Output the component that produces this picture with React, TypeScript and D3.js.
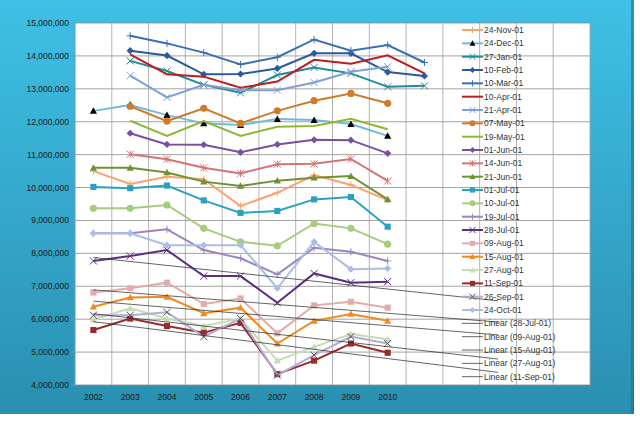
import React from 'react';
import * as d3 from 'd3';

const years = ['2002', '2003', '2004', '2005', '2006', '2007', '2008', '2009', '2010', '', '', '', '', ''];
const yTicks = d3.range(4000000, 15000001, 1000000);

type Mk = 'plus' | 'tri' | 'x' | 'diamond' | 'none' | 'circle' | 'star' | 'square';
interface Series { name: string; color: string; marker: Mk; markerColor?: string; start: number; values: number[] }

const names = ['24-Nov-01', '24-Dec-01', '27-Jan-01', '10-Feb-01', '10-Mar-01', '10-Apr-01', '21-Apr-01', '07-May-01', '19-May-01', '01-Jun-01', '14-Jun-01', '21-Jun-01', '01-Jul-01', '10-Jul-01', '19-Jul-01', '28-Jul-01', '09-Aug-01', '15-Aug-01', '27-Aug-01', '11-Sep-01', '26-Sep-01', '24-Oct-01'];
const colors = ['#f9a26b', '#6fbbd9', '#1e8b9a', '#2a5a9b', '#3b6fb5', '#c0191f', '#7f9fd6', '#d07a2c', '#8cb832', '#7a4ea0', '#d47474', '#6f9132', '#2ba1c0', '#a6cc7e', '#9b86c2', '#5b2f84', '#e4abab', '#f08a20', '#c8dcb3', '#9a2b2b', '#b0aed6', '#a9bde6'];
const markers: Mk[] = ['plus', 'tri', 'x', 'diamond', 'plus', 'none', 'x', 'circle', 'none', 'diamond', 'star', 'tri', 'square', 'circle', 'plus', 'x', 'square', 'tri', 'tri', 'square', 'x', 'diamond'];
const starts = [0, 0, 1, 1, 1, 1, 1, 1, 1, 1, 1, 0, 0, 0, 0, 0, 0, 0, 0, 0, 0, 0];
const values: number[][] = [
  [10.50, 10.11, 10.33, 10.25, 9.44, 9.84, 10.38, 10.08, 9.62],
  [12.33, 12.51, 12.20, 11.95, 11.90, 12.08, 12.05, 11.93, 11.57],
  [13.85, 13.54, 13.12, 12.88, 13.42, 13.65, 13.47, 13.06, 13.09],
  [14.16, 14.01, 13.44, 13.45, 13.62, 14.08, 14.08, 13.51, 13.39],
  [14.61, 14.38, 14.10, 13.74, 13.96, 14.50, 14.16, 14.33, 13.80],
  [14.05, 13.44, 13.37, 13.03, 13.22, 13.88, 13.76, 14.02, 13.47],
  [13.40, 12.74, 13.12, 12.96, 12.96, 13.19, 13.52, 13.67],
  [12.47, 12.02, 12.41, 11.95, 12.33, 12.64, 12.86, 12.56],
  [12.03, 11.57, 12.02, 11.57, 11.85, 11.87, 12.09, 11.77],
  [11.65, 11.31, 11.30, 11.07, 11.31, 11.45, 11.44, 11.04],
  [11.01, 10.86, 10.60, 10.43, 10.71, 10.72, 10.87, 10.20],
  [10.60, 10.60, 10.46, 10.18, 10.05, 10.21, 10.30, 10.35, 9.64],
  [10.02, 9.98, 10.06, 9.61, 9.23, 9.29, 9.64, 9.71, 8.81],
  [9.37, 9.37, 9.47, 8.76, 8.35, 8.23, 8.91, 8.76, 8.28],
  [8.61, 8.61, 8.73, 8.10, 7.85, 7.36, 8.17, 8.05, 7.77],
  [7.77, 7.92, 8.10, 7.31, 7.31, 6.50, 7.39, 7.11, 7.14],
  [6.81, 6.94, 7.11, 6.46, 6.63, 5.57, 6.42, 6.53, 6.35],
  [6.38, 6.66, 6.68, 6.18, 6.35, 5.26, 5.95, 6.16, 5.95],
  [5.99, 6.33, 6.02, 5.79, 6.02, 4.74, 5.16, 5.55, 5.39],
  [5.67, 6.02, 5.79, 5.59, 5.89, 4.33, 4.74, 5.26, 4.98],
  [6.12, 6.12, 6.21, 5.47, 6.02, 4.30, 4.91, 5.47, 5.26],
  [8.61, 8.61, 8.25, 8.25, 8.25, 6.94, 8.35, 7.52, 7.54],
];
const trendNames = ['28-Jul-01', '09-Aug-01', '15-Aug-01', '27-Aug-01', '11-Sep-01'];
const trendForward = 3;

const series: Series[] = names.map((n, i) => ({
  name: n, color: colors[i], marker: markers[i], start: starts[i],
  markerColor: n === '24-Dec-01' ? '#000' : n === '26-Sep-01' ? '#555' : colors[i],
  values: values[i].map(v => v * 1e6),
}));

const W = 640, H = 421;
const plot = { left: 75, right: 590, top: 23, bottom: 385 };

const Marker: React.FC<{ kind: Mk; x: number; y: number; c: string; s?: number }> = ({ kind, x, y, c, s = 3.6 }) => {
  switch (kind) {
    case 'plus': return <path d={`M${x - s},${y}H${x + s}M${x},${y - s}V${y + s}`} stroke={c} strokeWidth={1} />;
    case 'x': return <path d={`M${x - s},${y - s}L${x + s},${y + s}M${x - s},${y + s}L${x + s},${y - s}`} stroke={c} strokeWidth={1} />;
    case 'star': return <path d={`M${x - s},${y - s}L${x + s},${y + s}M${x - s},${y + s}L${x + s},${y - s}M${x},${y - s}V${y + s}`} stroke={c} strokeWidth={1} />;
    case 'tri': return <path d={`M${x},${y - s}L${x + s},${y + s * 0.8}L${x - s},${y + s * 0.8}Z`} fill={c} />;
    case 'diamond': return <path d={`M${x},${y - s}L${x + s},${y}L${x},${y + s}L${x - s},${y}Z`} fill={c} />;
    case 'circle': return <circle cx={x} cy={y} r={s} fill={c} />;
    case 'square': return <rect x={x - s * 0.85} y={y - s * 0.85} width={s * 1.7} height={s * 1.7} fill={c} />;
    default: return null;
  }
};

export default function App() {
  const x = d3.scaleBand<number>().domain(d3.range(years.length)).range([plot.left, plot.right]);
  const cx = (i: number) => (x(i) ?? 0) + x.bandwidth() / 2;
  const y = d3.scaleLinear().domain([4000000, 15000000]).range([plot.bottom, plot.top]);
  const line = d3.line<[number, number]>().x(d => cx(d[0])).y(d => y(d[1]));
  const minor = d3.range(4000000, 15000000, 100000);
  const legY = d3.scaleLinear().domain([0, 26]).range([30, 376.7]);
  const fmt = d3.format(',');

  return (
    <svg width={W} height={H} style={{ position: 'absolute', left: 0, top: 0, fontFamily: 'Liberation Sans, Arial, sans-serif' }}>
      <defs>
        <linearGradient id="bg" x1="0" y1="0" x2="0" y2="1">
          <stop offset="0" stopColor="#3fc0e6" />
          <stop offset="1" stopColor="#2a8fb0" />
        </linearGradient>
      </defs>
      <rect x={0} y={0} width={W} height={H} fill="#fff" />
      <rect x={0} y={0} width={634} height={414} fill="url(#bg)" />
      <rect x={631} y={0} width={3} height={414} fill="#1f6f8a" opacity={0.6} />
      <rect x={plot.left} y={plot.top} width={plot.right - plot.left} height={plot.bottom - plot.top} fill="#fff" />
      {yTicks.map(t => <line key={t} x1={plot.left} x2={plot.right} y1={y(t)} y2={y(t)} stroke="#8c8c8c" strokeWidth={0.8} />)}
      {d3.range(1, years.length + 1).map(i => (
        <line key={i} x1={plot.left + i * x.step()} x2={plot.left + i * x.step()} y1={plot.top} y2={plot.bottom} stroke="#a0a0a0" strokeWidth={0.8} />
      ))}
      <line x1={plot.left} x2={plot.left} y1={plot.top} y2={plot.bottom} stroke="#5aa0c0" />
      {minor.map(t => <line key={t} x1={plot.left - 2} x2={plot.left} y1={y(t)} y2={y(t)} stroke="#5aa0c0" strokeWidth={0.5} />)}
      {yTicks.map(t => (
        <g key={t}>
          <line x1={plot.left - 4} x2={plot.left} y1={y(t)} y2={y(t)} stroke="#5aa0c0" />
          <text x={plot.left - 6} y={y(t)} dy="0.35em" textAnchor="end" fontSize={8.5} fill="#1a1a1a">{fmt(t)}</text>
        </g>
      ))}
      {years.map((yr, i) => yr && (
        <text key={i} x={cx(i)} y={plot.bottom + 15} textAnchor="middle" fontSize={8.5} fill="#1a1a1a">{yr}</text>
      ))}

      {series.map(s => {
        const pts = s.values.map((v, i) => [i + s.start, v] as [number, number]);
        return (
          <g key={s.name}>
            <path d={line(pts) ?? undefined} fill="none" stroke={s.color} strokeWidth={2} />
            {pts.map((p, i) => <Marker key={i} kind={s.marker} x={cx(p[0])} y={y(p[1])} c={s.markerColor!} />)}
          </g>
        );
      })}

      {trendNames.map(n => {
        const s = series.find(d => d.name === n)!;
        const pts = s.values.map((v, i) => [i + s.start, v] as [number, number]);
        const mx = d3.mean(pts, p => p[0])!, my = d3.mean(pts, p => p[1])!;
        const b = d3.sum(pts, p => (p[0] - mx) * (p[1] - my)) / d3.sum(pts, p => (p[0] - mx) ** 2);
        const a = my - b * mx;
        const x0 = pts[0][0], x1 = pts[pts.length - 1][0] + trendForward;
        return <line key={n} x1={cx(x0)} y1={y(a + b * x0)} x2={cx(x1)} y2={y(a + b * x1)} stroke="#222" strokeWidth={0.7} />;
      })}

      {series.map((s, i) => (
        <g key={s.name} transform={`translate(462,${legY(i)})`}>
          <line x1={0} x2={21} y1={0} y2={0} stroke={s.color} strokeWidth={2} />
          <Marker kind={s.marker} x={10.5} y={0} c={s.markerColor!} s={3} />
          <text x={22} y={0} dy="0.35em" fontSize={8.5} fill="#333">{s.name}</text>
        </g>
      ))}
      {trendNames.map((n, i) => (
        <g key={n} transform={`translate(462,${legY(series.length + i)})`}>
          <line x1={0} x2={21} y1={0} y2={0} stroke="#222" strokeWidth={0.7} />
          <text x={22} y={0} dy="0.35em" fontSize={8.5} fill="#333">{`Linear (${n})`}</text>
        </g>
      ))}
    </svg>
  );
}
